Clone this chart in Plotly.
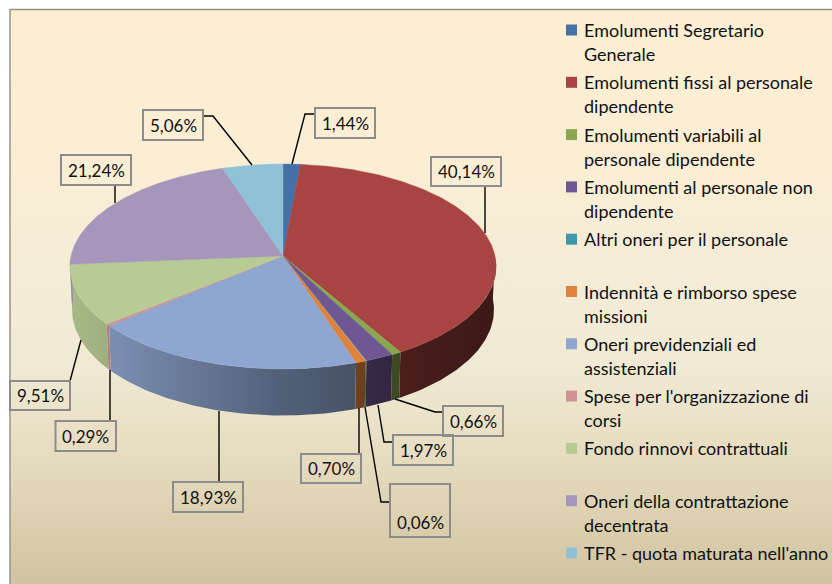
import numpy as np
import plotly.graph_objects as go

# ---------- data ----------
categories = ["Emolumenti Segretario Generale", "Emolumenti fissi al personale dipendente",
              "Emolumenti variabili al personale dipendente", "Emolumenti al personale non dipendente",
              "Altri oneri per il personale", "Indennità e rimborso spese missioni",
              "Oneri previdenziali ed assistenziali", "Spese per l'organizzazione di corsi",
              "Fondo rinnovi contrattuali", "Oneri della contrattazione decentrata",
              "TFR - quota maturata nell'anno"]
values = [1.44, 40.14, 0.66, 1.97, 0.06, 0.70, 18.93, 0.29, 9.51, 21.24, 5.06]
legend_lines = [["Emolumenti Segretario", "Generale"], ["Emolumenti fissi al personale", "dipendente"],
                ["Emolumenti variabili al", "personale dipendente"], ["Emolumenti al personale non", "dipendente"],
                ["Altri oneri per il personale"], ["Indennità e rimborso spese", "missioni"],
                ["Oneri previdenziali ed", "assistenziali"], ["Spese per l'organizzazione di", "corsi"],
                ["Fondo rinnovi contrattuali"], ["Oneri della contrattazione", "decentrata"],
                ["TFR - quota maturata nell'anno"]]

# ---------- styles / layout ----------
colors = ["#4471A8", "#A84442", "#88A74F", "#6F5794", "#3F97AE", "#DE823C",
          "#8FA6D0", "#D09293", "#B7CC94", "#A796BC", "#90C1D7"]
FONT = "Lato"
FS_LABEL = 17
FS_LEGEND = 18
W, H = 832, 584
CX, CY, A, B, K, DEPTH, LOWER = 283.0, 256.0, 212.0, 101.4, 0.1024, 42.8, 0.99

# box (x0, y0, x1, y1), leader polyline, text centre y
label_layout = [
    ((315, 108, 375, 138), [(292, 164), (305, 114), (315, 114)], 123),
    ((431, 157, 501, 186), [(485, 233), (485, 186)], 171.5),
    ((443, 406, 503, 436), [(395, 399), (435, 412), (443, 412)], 421),
    ((393, 435, 453, 465), [(378, 405), (384, 442), (393, 442)], 450),
    ((390, 484, 450, 537), [(365, 407), (381, 502), (390, 502)], 522),
    ((301, 454, 361, 483), [(359, 408), (359, 454)], 468.5),
    ((173, 482, 243, 512), [(219, 411), (219, 482)], 497),
    ((55.5, 421, 116, 451), [(110, 370), (110, 421)], 436),
    ((10, 381, 70, 410), [(81, 340), (70, 381)], 395.5),
    ((61, 155, 131, 185), [(115, 203), (115, 185)], 170),
    ((143, 110, 203, 140), [(252, 165), (213, 116), (203, 116)], 125),
]
bg_stops = [(10, "#FEEFD3"), (150, "#FBEED4"), (290, "#F4ECD7"), (370, "#F0E9D3"),
            (450, "#E7DDC1"), (520, "#DCD0B0"), (584, "#D0C39F")]
shade_stops = [(60, .92), (110, .86), (280, .58), (355, .5), (400, .44), (500, .36)]

fig = go.Figure()


def project(theta, drop=0.0, scale=1.0):
    u, v = np.sin(theta), np.cos(theta)
    s = 1.0 / (1.0 + K * v)
    return CX + A * scale * u * s, CY - B * scale * v * s + drop * s


def dark(hexc, f):
    r, g, b = (int(hexc[i:i + 2], 16) for i in (1, 3, 5))
    return f"rgb({r * f:.0f},{g * f:.0f},{b * f:.0f})"


# background panel
fig.add_trace(go.Scatter(
    x=[10, W, W, 10, 10], y=[10, 10, H, H, 10], mode="lines", fill="toself",
    line=dict(width=0), hoverinfo="skip", showlegend=False,
    fillgradient=dict(type="vertical", start=10, stop=H,
                      colorscale=[[(y - 10) / (H - 10), c] for y, c in bg_stops])))
fig.add_trace(go.Scatter(x=[10, 10, W], y=[H, 9.5, 9.5], mode="lines",
                         line=dict(color="#9A9488", width=1.5), hoverinfo="skip", showlegend=False))

total = sum(values)
edges = np.cumsum([0] + values) / total * 2 * np.pi
sx0, sx1 = shade_stops[0][0], shade_stops[-1][0]

# walls (front half only)
for i, c in enumerate(colors):
    a0, a1 = max(edges[i], np.pi / 2), min(edges[i + 1], 3 * np.pi / 2)
    if a1 <= a0:
        continue
    t = np.linspace(a0, a1, max(2, int((a1 - a0) * 60)))
    xt, yt = project(t)
    xb, yb = project(t[::-1], DEPTH, LOWER)
    fig.add_trace(go.Scatter(
        x=np.r_[xt, xb, xt[0]], y=np.r_[yt, yb, yt[0]], mode="lines", fill="toself",
        line=dict(width=0), name=categories[i], hoverinfo="skip", showlegend=False,
        fillgradient=dict(type="horizontal", start=sx0, stop=sx1,
                          colorscale=[[(x - sx0) / (sx1 - sx0), dark(c, f)] for x, f in shade_stops])))

# top faces
for i, c in enumerate(colors):
    t = np.linspace(edges[i], edges[i + 1], max(2, int((edges[i + 1] - edges[i]) * 120)))
    x, y = project(t)
    fig.add_trace(go.Scatter(
        x=np.r_[CX, x, CX], y=np.r_[CY, y, CY], mode="lines", fill="toself", fillcolor=c,
        line=dict(width=0.4, color=c), name=categories[i], text=f"{values[i]:.2f}%".replace(".", ","),
        hoverinfo="name+text", showlegend=False))

# leaders, boxes, labels
annotations = []
shapes = []
for v, (box, leader, ty) in zip(values, label_layout):
    fig.add_trace(go.Scatter(x=[p[0] for p in leader], y=[p[1] for p in leader], mode="lines",
                             line=dict(color="#000000", width=1.4), hoverinfo="skip", showlegend=False))
    shapes.append(dict(type="rect", xref="x", yref="y", x0=box[0], y0=box[1], x1=box[2], y1=box[3],
                       line=dict(color="#8C8C8C", width=2), layer="above"))
    annotations.append(dict(x=(box[0] + box[2]) / 2, y=ty, xref="x", yref="y", showarrow=False,
                            text=f"{v:.2f}%".replace(".", ","), font=dict(family=FONT, size=FS_LABEL, color="#111111")))

# legend
LEG_TOP, LEG_STEP, LINE = 30.0, 52.3, 24.0
fig.add_trace(go.Scatter(
    x=[571.5] * len(colors), y=[LEG_TOP + LEG_STEP * i for i in range(len(colors))], mode="markers",
    marker=dict(symbol="square", size=11, color=colors, line=dict(width=0)),
    hoverinfo="skip", showlegend=False))
for i, lines in enumerate(legend_lines):
    for j, line in enumerate(lines):
        annotations.append(dict(x=582, y=LEG_TOP + LEG_STEP * i + LINE * j, xref="x", yref="y", xanchor="left",
                                showarrow=False, text=line, font=dict(family=FONT, size=FS_LEGEND, color="#111111")))

fig.update_layout(
    width=W, height=H, margin=dict(l=0, r=0, t=0, b=0), paper_bgcolor="white", plot_bgcolor="white",
    xaxis=dict(range=[0, W], visible=False, fixedrange=True),
    yaxis=dict(range=[H, 0], visible=False, fixedrange=True),
    showlegend=False, shapes=shapes, annotations=annotations)
post = ("document.body.style.margin='0';"
        "var st=document.createElement('style');"
        "st.textContent='svg text{font-variant-ligatures:none;}';"
        "document.head.appendChild(st);")
fig.write_html("out.html", post_script=post, config={"displayModeBar": False})
